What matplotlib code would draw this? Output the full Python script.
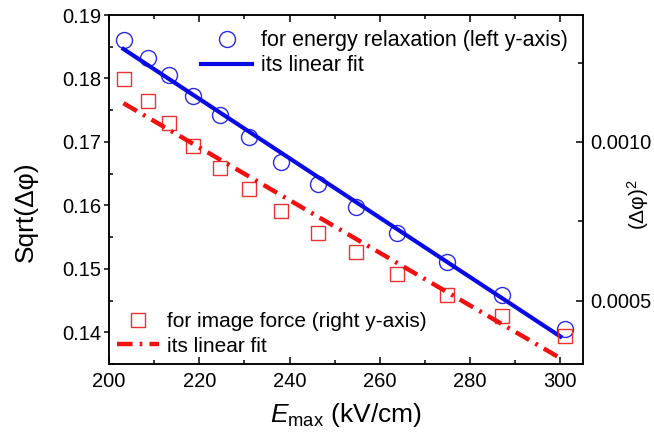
import matplotlib.pyplot as plt
import numpy as np
from matplotlib.ticker import MultipleLocator, FormatStrFormatter

plt.rcParams['font.family'] = ['Liberation Sans', 'DejaVu Sans']
plt.rcParams['mathtext.fontset'] = 'custom'
plt.rcParams['mathtext.it'] = 'Liberation Sans:italic'
plt.rcParams['mathtext.rm'] = 'Liberation Sans'

# datos
e_max = [203.4, 208.6, 213.3, 218.7, 224.6, 231.1, 238.1, 246.4, 254.8, 263.8, 274.9, 287.1, 301.1]
sqrt_dphi = [0.1860, 0.1832, 0.1806, 0.1773, 0.1742, 0.1708, 0.1668, 0.1633, 0.1598, 0.1556, 0.1510, 0.1458, 0.1405]
dphi_sq = [0.001198, 0.001129, 0.001059, 0.000987, 0.000917, 0.000851, 0.000783,
           0.000713, 0.000653, 0.000585, 0.000519, 0.000451, 0.000388]
fit_range = [203.2, 300.0]

x = np.array(e_max)
fit_x = np.array(fit_range)
a1, b1 = np.polyfit(x, sqrt_dphi, 1)  # ajuste lineal (eje izq)
a2, b2 = np.polyfit(x, dphi_sq, 1)    # ajuste lineal (eje der)

fig = plt.figure(figsize=(6.54, 4.43), dpi=100)
ax = fig.add_axes([0.1667, 0.1783, 0.7247, 0.7878])
ax2 = ax.twinx()

ax.plot(x, sqrt_dphi, 'o', ms=11.5, mfc='none', mec='#2a2ae8', mew=1.0,
        label='for energy relaxation (left y-axis)')
ax.plot(fit_x, a1 * fit_x + b1, '-', color='#0a0ae6', lw=3, label='its linear fit')

ax2.plot(x, dphi_sq, 's', ms=10, mfc='none', mec='#ee3030', mew=1.0,
         label='for image force (right y-axis)')
ax2.plot(fit_x, a2 * fit_x + b2, color='#f01010', lw=3.2,
         linestyle=(0, (3.5, 1.6, 0.6, 1.6)), label='its linear fit')

ax.set_xlim(200, 305)
ax.set_ylim(0.135, 0.19)
ax2.set_ylim(0.0003, 0.0014)

ax.xaxis.set_major_locator(MultipleLocator(20))
ax.xaxis.set_minor_locator(MultipleLocator(10))
ax.yaxis.set_major_locator(MultipleLocator(0.01))
ax.yaxis.set_minor_locator(MultipleLocator(0.005))
ax.yaxis.set_major_formatter(FormatStrFormatter('%.2f'))
ax2.yaxis.set_major_locator(MultipleLocator(0.0005))
ax2.yaxis.set_minor_locator(MultipleLocator(0.00025))
ax2.yaxis.set_major_formatter(FormatStrFormatter('%.4f'))

# ticks estilo Origin
ax.tick_params(axis='x', which='both', direction='in', top=True, labelsize=14.5, pad=6)
ax.tick_params(axis='x', which='major', length=5, width=1.1)
ax.tick_params(axis='x', which='minor', length=3, width=1.1)
ax.tick_params(axis='y', which='major', direction='out', length=3.5, width=1.1, labelsize=14.5, pad=2)
ax.tick_params(axis='y', which='minor', direction='in', length=3, width=1.1)
ax2.tick_params(axis='y', which='major', direction='in', length=5, width=1.1, labelsize=14.5, pad=5)
ax2.tick_params(axis='y', which='minor', direction='in', length=3.5, width=1.1)

for a in (ax, ax2):
    for s in a.spines.values():
        s.set_linewidth(1.1)

ax.set_xlabel(r'$E_{\mathrm{max}}$ (kV/cm)', fontsize=19)
ax.xaxis.set_label_coords(0.5, -0.105)
ax.set_ylabel('Sqrt(\u0394\u03c6)', fontsize=19)
ax.yaxis.set_label_coords(-0.15, 0.436)
ax2.set_ylabel('(\u0394\u03c6)$^2$', fontsize=15, rotation=90)
ax2.yaxis.set_label_coords(1.088, 0.456)

ax.legend(loc='upper right', frameon=False, fontsize=15.5, handlelength=2.4,
          borderaxespad=0.3, handletextpad=0.4, labelspacing=0.2)
ax2.legend(loc='lower left', frameon=False, fontsize=15, handlelength=2.0,
           borderaxespad=0.0, handletextpad=0.4, labelspacing=0.25)

plt.savefig('out.png', dpi=100)
